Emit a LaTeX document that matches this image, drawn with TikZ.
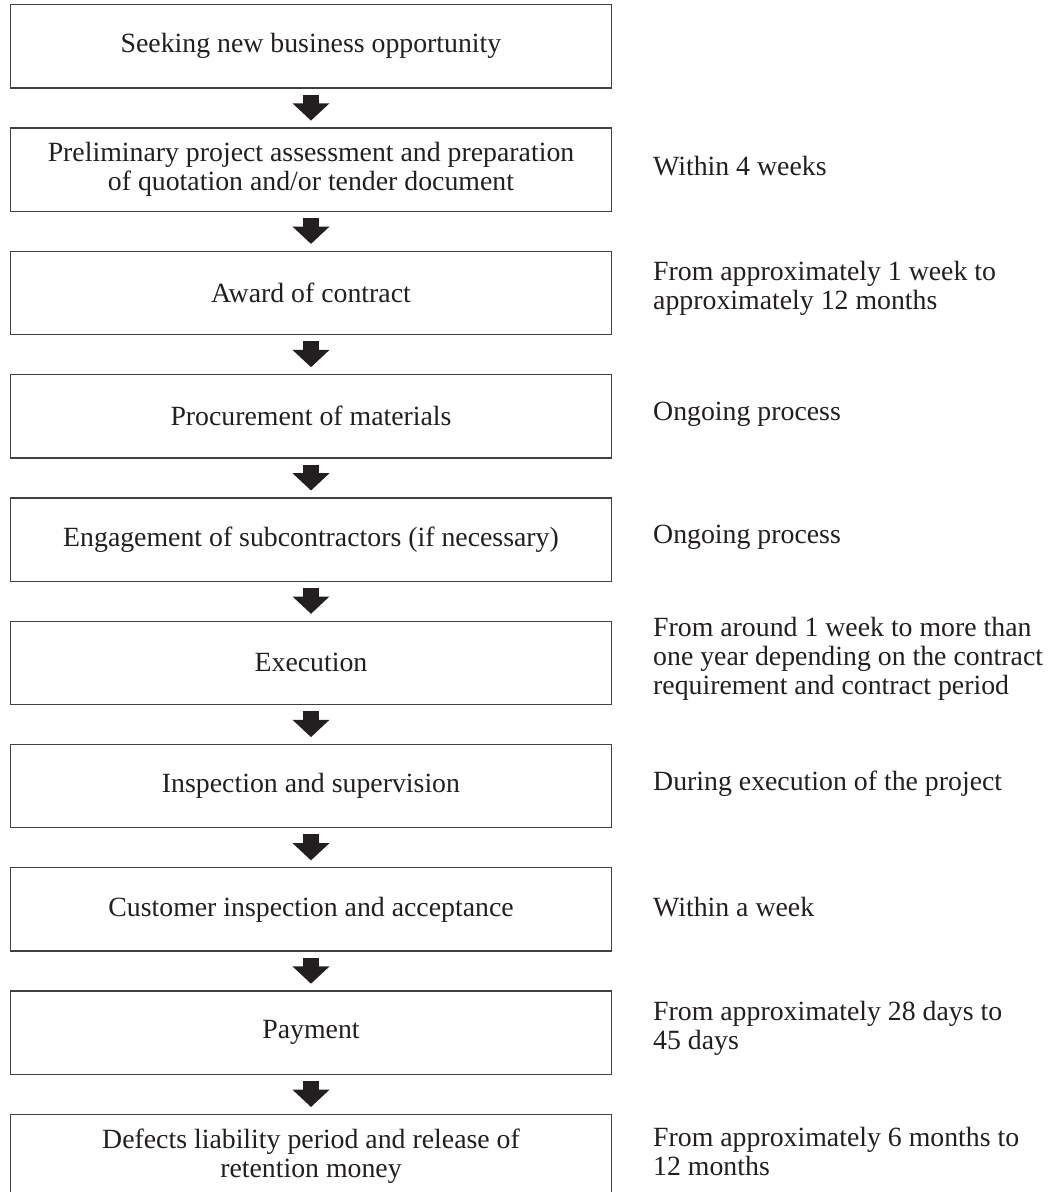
\documentclass[tikz,border=0pt]{standalone}
\usepackage{fontspec}
\setmainfont{Liberation Serif}
\usetikzlibrary{arrows.meta}
\definecolor{ink}{HTML}{231F20}
\definecolor{boxline}{HTML}{404040}
\tikzset{
  stepbox/.style={draw=boxline, line width=1.3pt, minimum width=601pt, minimum height=83.3pt,
    inner sep=0pt, align=center, text=ink, font=\fontsize{27.8}{29}\selectfont},
  note/.style={anchor=west, align=left, inner sep=0pt, text=ink, font=\fontsize{27.8}{29}\selectfont},
  flow/.style={draw=ink, line width=16pt, -{Triangle[width=36pt,length=17.3pt]},
    shorten <=6pt, shorten >=6.7pt}
}
\begin{document}
\begin{tikzpicture}[x=1pt,y=-1pt]
\path[use as bounding box, clip] (0,0) rectangle (1052,1192);
\fill[white] (0,0) rectangle (1052,1192);
\node[stepbox] (b1) at (311,46.3) {Seeking new business opportunity};
\node[stepbox] (b2) at (311,169.6) {Preliminary project assessment and preparation\\of quotation and/or tender document};
\node[stepbox] (b3) at (311,292.9) {Award of contract};
\node[stepbox] (b4) at (311,416.2) {Procurement of materials};
\node[stepbox] (b5) at (311,539.5) {Engagement of subcontractors (if necessary)};
\node[stepbox] (b6) at (311,662.8) {Execution};
\node[stepbox] (b7) at (311,786.1) {Inspection and supervision};
\node[stepbox] (b8) at (311,909.4) {Customer inspection and acceptance};
\node[stepbox] (b9) at (311,1032.7) {Payment};
\node[stepbox] (b10) at (311,1156.0) {Defects liability period and release of\\retention money};

\node[note] (n2) at (653,166) {Within 4 weeks};
\node[note] (n3) at (653,288) {From approximately 1 week to\\approximately 12 months};
\node[note] (n4) at (653,414) {Ongoing process};
\node[note] (n5) at (653,537) {Ongoing process};
\node[note] (n6) at (653,659) {From around 1 week to more than\\one year depending on the contract\\requirement and contract period};
\node[note] (n7) at (653,784) {During execution of the project};
\node[note] (n8) at (653,907) {Within a week};
\node[note] (n9) at (653,1028) {From approximately 28 days to\\45 days};
\node[note] (n10) at (653,1151) {From approximately 6 months to\\12 months};

\foreach \a/\b in {b1/b2,b2/b3,b3/b4,b4/b5,b5/b6,b6/b7,b7/b8,b8/b9,b9/b10}
  \draw[flow] (\a.south) -- (\b.north);
\end{tikzpicture}
\end{document}
